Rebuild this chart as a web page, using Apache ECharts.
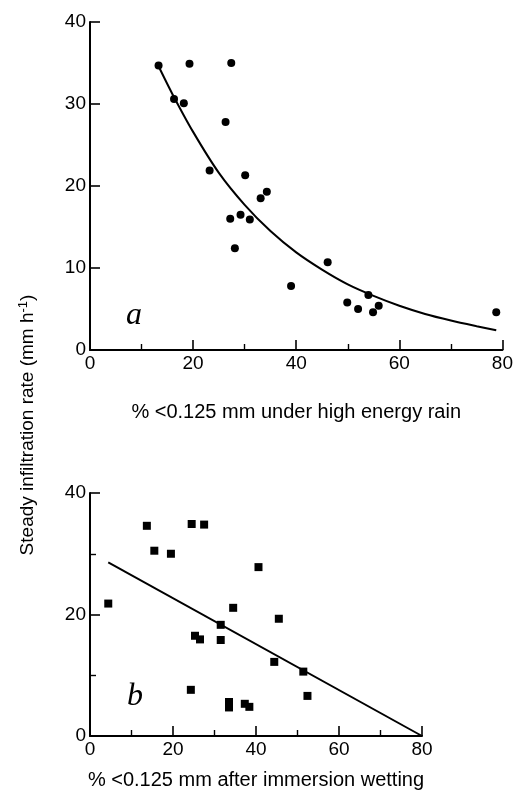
<!DOCTYPE html>
<html>
<head>
<meta charset="utf-8">
<script src="https://cdn.jsdelivr.net/npm/echarts@6/dist/echarts.min.js"></script>
<style>html,body{margin:0;padding:0;background:#fff}#c{width:516px;height:791px}</style>
</head>
<body>
<div id="c"></div>
<script>
// Panel a: % <0.125 mm under high energy rain vs steady infiltration rate
var aX = [13.3, 19.3, 27.4, 16.3, 18.2, 26.3, 23.2, 30.1, 34.3, 33.1, 27.2, 29.2, 31.0, 28.1, 46.1, 39.0, 54.0, 49.9, 52.0, 56.0, 54.9, 78.8];
var aY = [34.7, 34.9, 35.0, 30.6, 30.1, 27.8, 21.9, 21.3, 19.3, 18.5, 16.0, 16.5, 15.9, 12.4, 10.7, 7.8, 6.7, 5.8, 5.0, 5.4, 4.6, 4.6];
// Fitted curve in panel a
var curveX = [13.3, 16, 20, 25, 30, 35, 40, 45, 50, 55, 60, 65, 70, 75, 78.8];
var curveY = [34.6, 31.2, 26.6, 21.6, 17.7, 14.5, 11.9, 9.8, 8.0, 6.6, 5.4, 4.4, 3.6, 2.9, 2.4];
// Panel b: % <0.125 mm after immersion wetting
var bX = [4.4, 13.7, 24.5, 27.5, 15.5, 19.5, 40.6, 34.5, 45.5, 31.5, 25.3, 26.5, 31.5, 44.4, 51.4, 24.3, 52.4, 33.5, 33.5, 37.3, 38.4, 81.1];
var bY = [21.8, 34.6, 34.9, 34.8, 30.5, 30.0, 27.8, 21.1, 19.3, 18.3, 16.5, 15.9, 15.8, 12.2, 10.6, 7.6, 6.6, 5.6, 4.7, 5.3, 4.8, 4.6];
// Fitted line in panel b
var lineX = [4.4, 80];
var lineY = [28.6, 0];

function pairs(xs, ys){ return xs.map(function(x,i){ return [x, ys[i]]; }); }

var font = 'Liberation Sans, Arial, sans-serif';
function axisBase(){
  return {
    axisLine: {show: true, onZero: false, lineStyle: {color: '#000', width: 2}},
    axisTick: {show: true, inside: true, length: 10, lineStyle: {color: '#000', width: 1.6}},
    axisLabel: {color: '#000', fontSize: 19, fontFamily: font, margin: 4},
    splitLine: {show: false}
  };
}
function mk(extra){ var o = axisBase(); for (var k in extra) o[k] = extra[k]; return o; }

var chart = echarts.init(document.getElementById('c'));
chart.setOption({
  animation: false,
  backgroundColor: '#fff',
  grid: [
    {left: 90, top: 22, width: 414, height: 328},
    {left: 90, top: 493, width: 332, height: 245}
  ],
  xAxis: [
    mk({gridIndex: 0, type: 'value', min: 0, max: 80, interval: 20,
      minorTick: {show: true, splitNumber: 2, length: 6, lineStyle: {color: '#000', width: 1.4}},
      name: '% <0.125 mm under high energy rain', nameLocation: 'middle', nameGap: 52,
      nameTextStyle: {color: '#000', fontSize: 20, fontFamily: font}}),
    mk({gridIndex: 1, type: 'value', min: 0, max: 80, interval: 20,
      minorTick: {show: true, splitNumber: 2, length: 6, lineStyle: {color: '#000', width: 1.4}},
      name: '% <0.125 mm after immersion wetting', nameLocation: 'middle', nameGap: 34,
      nameTextStyle: {color: '#000', fontSize: 20, fontFamily: font}})
  ],
  yAxis: [
    mk({gridIndex: 0, type: 'value', min: 0, max: 40, interval: 10}),
    mk({gridIndex: 1, type: 'value', min: 0, max: 40, interval: 20,
      minorTick: {show: true, splitNumber: 2, length: 6, lineStyle: {color: '#000', width: 1.4}}})
  ],
  graphic: [
    {type: 'text', x: 28, y: 425, rotation: Math.PI / 2,
      style: {text: 'Steady infiltration rate (mm h{sup|-1})', fill: '#000', font: '19px ' + font,
        align: 'center', verticalAlign: 'middle',
        rich: {sup: {fontSize: 13, fontFamily: font, fill: '#000', padding: [0, 0, 9, 0]}}}},
    {type: 'text', x: 134, y: 316,
      style: {text: 'a', fill: '#000', font: 'italic 32px Liberation Serif, serif', align: 'center', verticalAlign: 'middle'}},
    {type: 'text', x: 135, y: 697,
      style: {text: 'b', fill: '#000', font: 'italic 32px Liberation Serif, serif', align: 'center', verticalAlign: 'middle'}}
  ],
  series: [
    {type: 'line', xAxisIndex: 0, yAxisIndex: 0, data: pairs(curveX, curveY), smooth: 0.3, showSymbol: false,
      lineStyle: {color: '#000', width: 2}},
    {type: 'scatter', xAxisIndex: 0, yAxisIndex: 0, data: pairs(aX, aY), symbol: 'circle', symbolSize: 8,
      itemStyle: {color: '#000', opacity: 1}},
    {type: 'line', xAxisIndex: 1, yAxisIndex: 1, data: pairs(lineX, lineY), showSymbol: false,
      lineStyle: {color: '#000', width: 2}},
    {type: 'scatter', xAxisIndex: 1, yAxisIndex: 1, data: pairs(bX, bY), symbol: 'rect', symbolSize: 8,
      itemStyle: {color: '#000', opacity: 1}}
  ]
});
</script>
</body>
</html>
